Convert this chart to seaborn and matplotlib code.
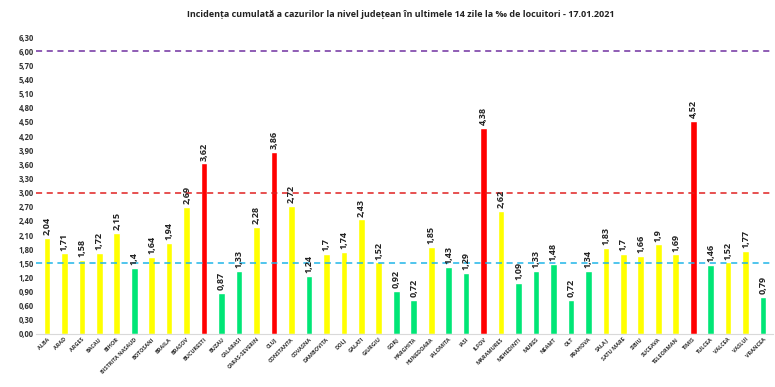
import matplotlib
matplotlib.use("Agg")
import matplotlib.pyplot as plt
import seaborn as sns
import pandas as pd

# data
judete = ["ALBA", "ARAD", "ARGES", "BACAU", "BIHOR", "BISTRITA NASAUD", "BOTOSANI",
          "BRAILA", "BRASOV", "BUCURESTI", "BUZAU", "CALARASI", "CARAS-SEVERIN", "CLUJ",
          "CONSTANTA", "COVASNA", "DAMBOVITA", "DOLJ", "GALATI", "GIURGIU", "GORJ",
          "HARGHITA", "HUNEDOARA", "IALOMITA", "IASI", "ILFOV", "MARAMURES", "MEHEDINTI",
          "MURES", "NEAMT", "OLT", "PRAHOVA", "SALAJ", "SATU MARE", "SIBIU", "SUCEAVA",
          "TELEORMAN", "TIMIS", "TULCEA", "VALCEA", "VASLUI", "VRANCEA"]
incidenta = [2.04, 1.71, 1.58, 1.72, 2.15, 1.4, 1.64, 1.94, 2.69, 3.62, 0.87, 1.33,
             2.28, 3.86, 2.72, 1.24, 1.7, 1.74, 2.43, 1.52, 0.92, 0.72, 1.85, 1.43,
             1.29, 4.38, 2.62, 1.09, 1.33, 1.48, 0.72, 1.34, 1.83, 1.7, 1.66, 1.9,
             1.69, 4.52, 1.46, 1.52, 1.77, 0.79]
praguri = [1.5, 3.0, 6.0]
culori_prag = ["#1FB5E8", "#E02020", "#7030A0"]


def culoare(v):
    if v > 3:
        return "#FF0000"
    if v >= 1.5:
        return "#FFFF00"
    return "#00E676"


df = pd.DataFrame({"judet": judete, "val": incidenta})
palette = {j: culoare(v) for j, v in zip(judete, incidenta)}

sns.set_theme(style="white")
plt.rcParams["font.family"] = ["Open Sans", "DejaVu Sans"]

fig = plt.figure(figsize=(7.75, 3.87), dpi=100)
ax = fig.add_axes([0.047, 0.137, 0.950, 0.767])

sns.barplot(data=df, x="judet", y="val", hue="judet", palette=palette,
            width=0.38, legend=False, ax=ax, saturation=1)

for y, c in zip(praguri, culori_prag):
    ax.axhline(y, color=c, linestyle=(0, (4, 3)), linewidth=1.1, zorder=3)

for i, v in enumerate(incidenta):
    txt = f"{v:g}".replace(".", ",")
    ax.text(i, v + 0.06, txt, rotation=90, ha="center", va="bottom",
            fontsize=6.5, fontweight="bold", color="#222222")

ax.set_ylim(0, 6.3)
ax.set_xlim(-0.6, len(judete) - 0.45)
ticks = [round(0.3 * k, 2) for k in range(22)]
ax.set_yticks(ticks)
ax.set_yticklabels([f"{t:.2f}".replace(".", ",") for t in ticks],
                   fontsize=5.5, fontweight="bold", color="#333333")
ax.set_xticks(range(len(judete)))
ax.set_xticklabels(judete, rotation=45, ha="right", rotation_mode="anchor",
                   fontsize=4, fontweight="bold", color="#333333")
ax.tick_params(axis="both", length=0, pad=2)
ax.set_xlabel("")
ax.set_ylabel("")
for s in ["top", "right", "left"]:
    ax.spines[s].set_visible(False)
ax.spines["bottom"].set_color("#D9D9D9")
ax.spines["bottom"].set_linewidth(0.8)

fig.text(0.517, 0.963, "Incidența cumulată a cazurilor la nivel județean în ultimele 14 zile la ‰ de locuitori - 17.01.2021",
         ha="center", va="center", fontsize=6.5, fontweight="bold", color="#222222")

fig.savefig("out.png", dpi=100)
